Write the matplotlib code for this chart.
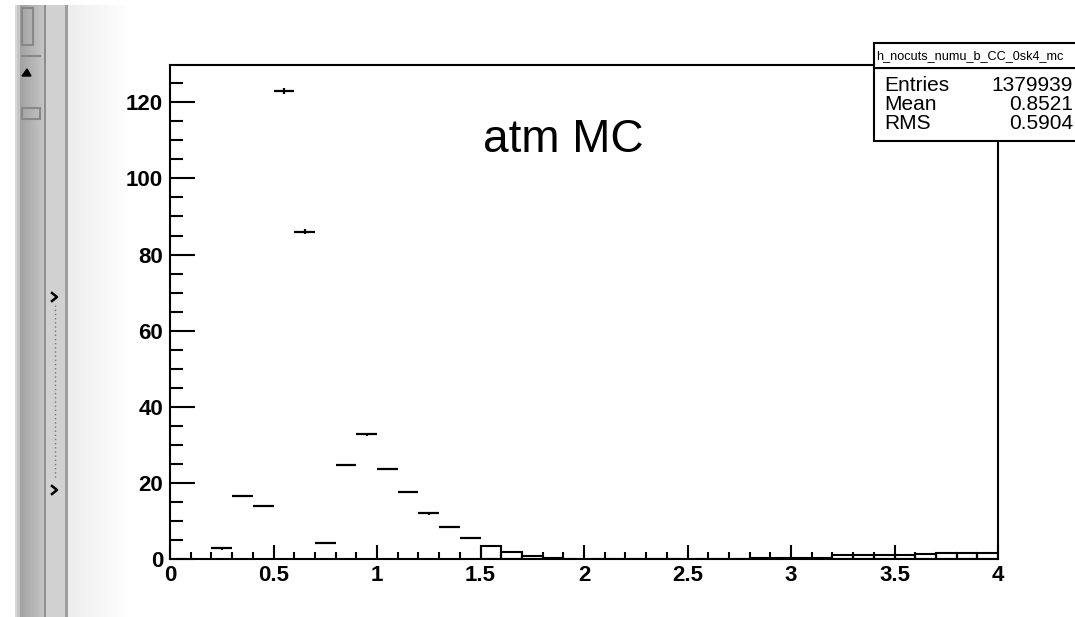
import matplotlib
matplotlib.use("Agg")
import matplotlib.pyplot as plt
from matplotlib.patches import Rectangle, Polygon
from matplotlib.ticker import MultipleLocator
import numpy as np

# histogram data (40 bins of width 0.1 from 0 to 4)
bin_edges = np.linspace(0.0, 4.0, 41)
counts = [0.0, 0.0, 2.8, 16.5, 13.9, 123.0, 86.0, 4.3, 24.6, 32.8,
          23.6, 17.5, 12.0, 8.4, 5.4, 3.4, 1.8, 0.9, 0.3, 0.0,
          0.0, 0.0, 0.0, 0.0, 0.0, 0.0, 0.0, 0.0, 0.3, 0.3,
          0.3, 0.3, 1.1, 1.1, 1.1, 1.1, 1.2, 1.5, 1.5, 1.5]
errors = [0.0, 0.0, 0.4, 0.2, 0.2, 0.7, 0.6, 0.1, 0.2, 0.4,
          0.2, 0.2, 0.4, 0.1, 0.1, 0.1, 0.1, 0.0, 0.0, 0.0,
          0.0, 0.0, 0.0, 0.0, 0.0, 0.0, 0.0, 0.0, 0.0, 0.0,
          0.0, 0.0, 0.0, 0.0, 0.0, 0.0, 0.0, 0.0, 0.0, 0.0]

hist_name = "h_nocuts_numu_b_CC_0sk4_mc"
stat_names = ["Entries", "Mean", "RMS"]
stat_values = ["1379939", "0.8521", "0.5904"]
title_text = "atm MC"

W, H = 1075, 617
fig = plt.figure(figsize=(W / 100, H / 100), dpi=100)
fig.patch.set_facecolor("white")

def fx(x):
    return x / W

def fy(y):
    return 1 - y / H

# --- left GUI strip (decoration) ---
cols = np.ones((130, 3))
def shade(a, b, c0, c1):
    cols[a:b] = np.linspace(c0, c1, b - a)[:, None]
shade(0, 15, 1.0, 1.0)
shade(15, 17, 0.85, 0.85)
shade(17, 20, 0.78, 0.78)
shade(20, 44, 0.64, 0.77)
shade(44, 46, 0.56, 0.56)
shade(46, 65, 0.82, 0.82)
shade(65, 68, 0.62, 0.62)
shade(68, 130, 0.93, 1.0)
gui = fig.add_axes([0, 0, fx(130), 1])
img = np.repeat(cols[None, :, :], 2, axis=0)
gui.imshow(img, aspect="auto", extent=[0, 130, H, 0], interpolation="nearest")
gui.set_xlim(0, 130)
gui.set_ylim(H, 0)
gui.axis("off")
gui.add_patch(Rectangle((0, 0), 130, 5, color="white", lw=0))
gui.add_patch(Rectangle((22, 8), 11, 37, fill=False, ec="#888888", lw=1.5))
gui.plot([22, 40], [56, 56], color="#888888", lw=1.5)
gui.add_patch(Polygon([[22, 76], [27, 69], [31, 76]], color="black"))
gui.add_patch(Rectangle((22, 108), 18, 11, fill=False, ec="#888888", lw=1.5))
gui.plot([55, 55], [305, 478], color="#777777", lw=1, ls=(0, (1, 2)))
for yc in (297, 490):
    gui.plot([52, 57, 52], [yc - 4, yc, yc + 4], color="black", lw=1.8)

# --- histogram frame ---
ax = fig.add_axes([fx(170), fy(559), fx(998) - fx(170), fy(65) - fy(559)])
ax.set_xlim(0, 4)
ax.set_ylim(0, 129.8)

centers = 0.5 * (bin_edges[:-1] + bin_edges[1:])
cnt = np.array(counts)
err = np.array(errors)

# low tail drawn as outlined boxes
tail = centers > 1.5
ax.bar(centers[tail], cnt[tail], width=0.1, fill=False, edgecolor="black",
       linewidth=1.5)

# points with error bars
filled = (cnt > 0) & ~tail
ax.errorbar(centers[filled], cnt[filled], xerr=0.05, yerr=err[filled],
            fmt="none", ecolor="black", elinewidth=1.6, capsize=0)

for side in ("left", "bottom", "top", "right"):
    ax.spines[side].set_linewidth(1.5)
    ax.spines[side].set_color("black")

ax.xaxis.set_major_locator(MultipleLocator(0.5))
ax.xaxis.set_minor_locator(MultipleLocator(0.1))
ax.yaxis.set_major_locator(MultipleLocator(20))
ax.yaxis.set_minor_locator(MultipleLocator(5))
ax.tick_params(axis="x", which="major", direction="in", length=10, width=1.5, pad=4)
ax.tick_params(axis="x", which="minor", direction="in", length=5, width=1.5)
ax.tick_params(axis="y", which="major", direction="in", length=18, width=1.5, pad=5)
ax.tick_params(axis="y", which="minor", direction="in", length=9, width=1.5)
ax.set_xticklabels([("%g" % v) for v in ax.get_xticks()])
for lab in ax.get_xticklabels() + ax.get_yticklabels():
    lab.set_fontfamily("Liberation Sans")
    lab.set_fontweight("bold")
    lab.set_fontsize(16)

fig.text(fx(563), fy(152), title_text, ha="center", va="baseline",
         fontsize=33, family="Liberation Sans")

# --- stats box ---
fig.patches.append(Rectangle((fx(874), fy(141)), fx(1080) - fx(874), fy(68) - fy(141),
                             transform=fig.transFigure, facecolor="white",
                             edgecolor="black", lw=1.5))
fig.patches.append(Rectangle((fx(874), fy(68)), fx(1080) - fx(874), fy(43) - fy(68),
                             transform=fig.transFigure, facecolor="white",
                             edgecolor="black", lw=1.5))
fig.text(fx(876), fy(56), hist_name, ha="left", va="center", fontsize=9.1,
         family="Liberation Sans")
row_y = [91, 110, 129]
for name, val, yy in zip(stat_names, stat_values, row_y):
    fig.text(fx(884), fy(yy), name, ha="left", va="baseline", fontsize=15,
             family="Liberation Sans")
    fig.text(fx(1073), fy(yy), val, ha="right", va="baseline", fontsize=15,
             family="Liberation Sans")

fig.savefig("out.png", dpi=100)
